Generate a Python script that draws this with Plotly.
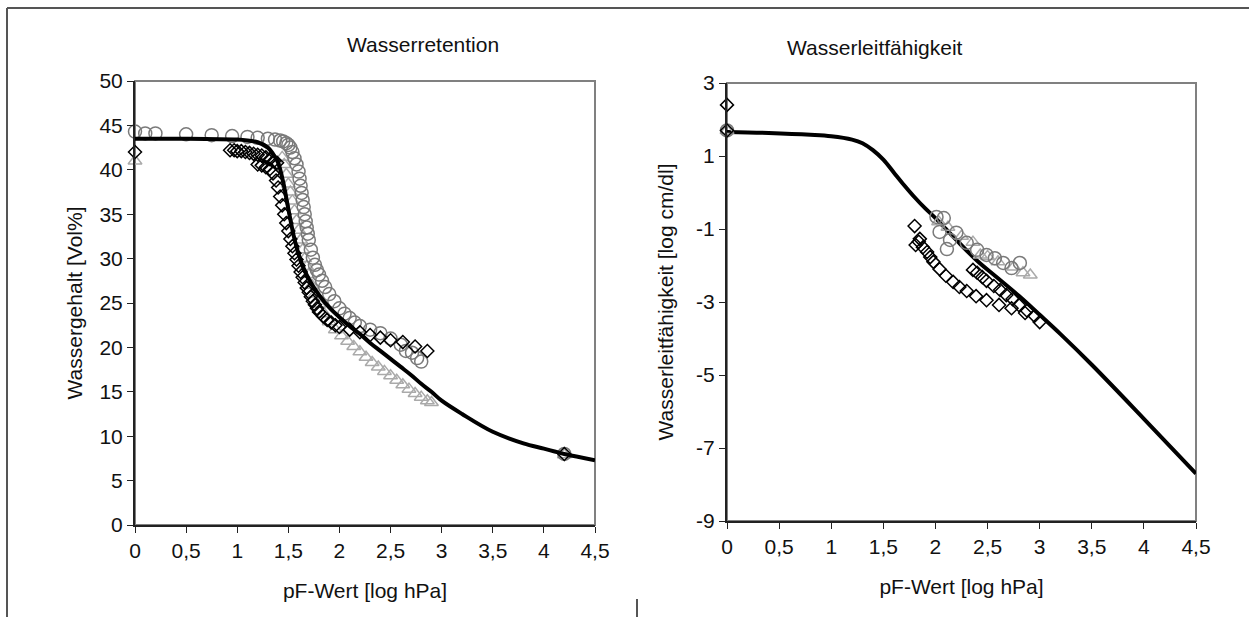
import plotly.graph_objects as go

# --- Wasserretention (left) ---
ret_fit_pf = [0, 0.5, 1.0, 1.1, 1.2, 1.3, 1.35, 1.4, 1.45, 1.5, 1.55, 1.6, 1.65, 1.7, 1.8, 1.9,
              2.0, 2.1, 2.2, 2.3, 2.4, 2.5, 2.6, 2.7, 2.8, 2.9, 3.0, 3.2, 3.5, 3.8, 4.0, 4.2, 4.5]
ret_fit_theta = [43.5, 43.5, 43.4, 43.3, 43.1, 42.5, 41.8, 40.8, 38.6, 35.6, 32.7, 30.5, 28.9, 27.7,
                 25.9, 24.5, 23.4, 22.4, 21.5, 20.5, 19.6, 18.7, 17.8, 16.9, 15.9, 15.0, 14.0,
                 12.5, 10.5, 9.2, 8.6, 8.0, 7.3]

ret_circ_pf = [0, 0.1, 0.2, 0.5, 0.75, 0.95, 1.1, 1.2, 1.3, 1.37, 1.42, 1.45, 1.48, 1.5, 1.52,
               1.54, 1.56, 1.58, 1.6, 1.61, 1.62, 1.63, 1.64, 1.65, 1.66, 1.67, 1.68, 1.69, 1.7,
               1.72, 1.74, 1.76, 1.78, 1.8, 1.83, 1.86, 1.9, 1.95, 2.0, 2.05, 2.1, 2.15, 2.2,
               2.3, 2.4, 2.5, 2.6, 2.65, 2.71, 2.76, 2.8, 4.2]
ret_circ_theta = [44.3, 44.1, 44.1, 44.0, 43.9, 43.8, 43.7, 43.6, 43.5, 43.4, 43.3, 43.2, 43.0, 42.8,
                  42.5, 42.0, 41.3, 40.6, 39.8, 39.0, 38.2, 37.4, 36.6, 35.8, 35.0, 34.2, 33.5,
                  32.8, 32.1, 31.0, 30.1, 29.3, 28.7, 28.2, 27.5, 26.8, 26.0, 25.2, 24.4, 23.8,
                  23.3, 22.8, 22.4, 22.0, 21.6, 21.0, 20.3, 19.6, 19.4, 18.8, 18.4, 8.0]

ret_diam_pf = [0, 0.93, 0.97, 1.0, 1.04, 1.08, 1.12, 1.16, 1.2, 1.24, 1.28, 1.32, 1.36, 1.39,
               1.2, 1.24, 1.28, 1.32, 1.35, 1.38, 1.4, 1.42, 1.44, 1.46, 1.48, 1.5, 1.52, 1.54,
               1.56, 1.58, 1.6, 1.62, 1.64, 1.66, 1.68, 1.7, 1.72, 1.74, 1.76, 1.78, 1.8, 1.84,
               1.88, 1.92, 1.96, 2.0, 2.1, 2.2, 2.3, 2.4, 2.5, 2.62, 2.74, 2.86, 4.2]
ret_diam_theta = [42.0, 42.2, 42.2, 42.1, 42.1, 42.0, 41.9, 41.8, 41.7, 41.6, 41.4, 41.2, 41.0, 40.8,
                  40.6, 40.5, 40.3, 40.1, 39.6, 38.8, 38.0, 37.0, 36.0, 35.0, 34.0, 33.1, 32.2,
                  31.4, 30.6, 29.9, 29.2, 28.5, 27.9, 27.3, 26.7, 26.2, 25.7, 25.2, 24.8, 24.4,
                  24.0, 23.5, 23.1, 22.8, 22.5, 22.3, 22.0, 21.7, 21.4, 21.1, 20.8, 20.6, 20.1,
                  19.6, 8.0]

ret_tri_pf = [0, 1.44, 1.46, 1.48, 1.5, 1.52, 1.54, 1.56, 1.58, 1.6, 1.62, 1.64, 1.66, 1.68,
              1.7, 1.73, 1.76, 1.8, 1.85, 1.9, 1.96, 2.02, 2.08, 2.14, 2.2, 2.26, 2.32,
              2.38, 2.44, 2.5, 2.56, 2.62, 2.68, 2.74, 2.8, 2.86, 2.9, 4.2]
ret_tri_theta = [41.0, 41.4, 40.6, 39.5, 38.4, 37.5, 36.5, 35.4, 34.3, 33.2, 32.1, 31.0, 30.0, 29.1,
                 28.2, 27.0, 26.0, 24.9, 23.8, 22.9, 22.0, 21.3, 20.7, 20.1,
                 19.5, 18.9, 18.3, 17.8, 17.3, 16.8, 16.3, 15.8, 15.3, 14.8, 14.4, 14.0, 13.8, 7.9]

# --- Wasserleitfähigkeit (right) ---
k_fit_pf = [0, 0.4, 0.8, 1.0, 1.2, 1.3, 1.4, 1.5, 1.6, 1.7, 1.8, 1.9, 2.0, 2.1, 2.2, 2.4, 2.6,
            2.8, 3.0, 3.2, 3.5, 4.0, 4.5]
k_fit_log = [1.66, 1.63, 1.58, 1.54, 1.45, 1.35, 1.16, 0.9, 0.55, 0.2, -0.13, -0.43, -0.7, -1.0,
             -1.3, -1.87, -2.35, -2.83, -3.35, -3.88, -4.72, -6.2, -7.7]

k_diam_pf = [0, 0, 1.8, 1.85, 1.81, 1.84, 1.88, 1.92, 1.95, 1.98, 2.04, 2.1, 2.17, 2.23, 2.3,
             2.39, 2.49, 2.61, 2.73, 2.86, 3.0, 2.36, 2.4, 2.45, 2.49, 2.56, 2.62, 2.68, 2.74,
             2.8, 2.88, 2.95]
k_diam_log = [2.4, 1.7, -0.92, -1.27, -1.44, -1.35, -1.5, -1.63, -1.77, -1.9, -2.1, -2.28, -2.45,
              -2.59, -2.7, -2.84, -2.95, -3.08, -3.17, -3.3, -3.55, -2.12, -2.2, -2.32, -2.42,
              -2.56, -2.67, -2.81, -2.92, -3.08, -3.24, -3.38]

k_circ_pf = [0, 2.01, 2.08, 2.04, 2.11, 2.2, 2.14, 2.3, 2.4, 2.49, 2.57, 2.65, 2.73, 2.81]
k_circ_log = [1.7, -0.67, -0.7, -1.08, -1.55, -1.1, -1.3, -1.38, -1.57, -1.71, -1.8, -1.93, -2.07,
              -1.93]

k_tri_pf = [0, 2.03, 2.12, 2.25, 2.36, 2.43, 2.5, 2.6, 2.75, 2.84, 2.91]
k_tri_log = [1.7, -0.8, -0.95, -1.2, -1.36, -1.71, -1.75, -1.9, -2.04, -2.2, -2.26]

x_tickvals = [0, 0.5, 1, 1.5, 2, 2.5, 3, 3.5, 4, 4.5]
x_ticktext = ["0", "0,5", "1", "1,5", "2", "2,5", "3", "3,5", "4", "4,5"]
y1_tickvals = [0, 5, 10, 15, 20, 25, 30, 35, 40, 45, 50]
y2_tickvals = [-9, -7, -5, -3, -1, 1, 3]
y2_ticktext = ["-9", "-7", "-5", "-3", "-1", "1", "3"]

BLACK = "#000000"
GREY = "#7a7a7a"
LIGHT = "#aaaaaa"
FONT = "Liberation Sans, Arial, sans-serif"
W, H = 1249, 617

fig = go.Figure()


def add_markers(x, y, symbol, color, size, xa, ya):
    fig.add_trace(go.Scatter(
        x=x, y=y, mode="markers", xaxis=xa, yaxis=ya, cliponaxis=False,
        marker=dict(symbol=symbol, size=size, color=color, line=dict(color=color, width=1.5)),
    ))


# left panel
add_markers(ret_tri_pf, ret_tri_theta, "triangle-up-open", LIGHT, 12, "x", "y")
add_markers(ret_circ_pf, ret_circ_theta, "circle-open", GREY, 13, "x", "y")
fig.add_trace(go.Scatter(x=ret_fit_pf, y=ret_fit_theta, mode="lines", xaxis="x", yaxis="y",
                         line=dict(color=BLACK, width=4, shape="spline")))
add_markers(ret_diam_pf, ret_diam_theta, "diamond-open", BLACK, 10, "x", "y")

# right panel
fig.add_trace(go.Scatter(x=k_fit_pf, y=k_fit_log, mode="lines", xaxis="x2", yaxis="y2",
                         line=dict(color=BLACK, width=4, shape="spline")))
add_markers(k_tri_pf, k_tri_log, "triangle-up-open", LIGHT, 12, "x2", "y2")
add_markers(k_circ_pf, k_circ_log, "circle-open", GREY, 13, "x2", "y2")
add_markers(k_diam_pf, k_diam_log, "diamond-open", BLACK, 10, "x2", "y2")

axis_common = dict(
    showgrid=False, zeroline=False, showline=True, linecolor="#222222", linewidth=2,
    ticks="outside", ticklen=6, tickwidth=1, tickcolor="#222222", automargin=False,
    tickfont=dict(family=FONT, size=21, color="#111111"),
)

fig.update_layout(
    width=W, height=H,
    margin=dict(l=0, r=0, t=0, b=0),
    paper_bgcolor="white", plot_bgcolor="white",
    showlegend=False,
    font=dict(family=FONT, color="#111111"),
    xaxis=dict(domain=[135 / W, 595 / W], range=[0, 4.5], tickvals=x_tickvals,
               ticktext=x_ticktext, anchor="y",
               title=dict(text="pF-Wert [log hPa]", font=dict(size=21), standoff=22),
               **axis_common),
    yaxis=dict(domain=[1 - 525 / H, 1 - 81 / H], range=[0, 50], tickvals=y1_tickvals,
               anchor="x",
               title=dict(text="Wassergehalt [Vol%]", font=dict(size=21), standoff=11),
               **axis_common),
    xaxis2=dict(domain=[727 / W, 1196 / W], range=[0, 4.5], tickvals=x_tickvals,
                ticktext=x_ticktext, anchor="y2",
                title=dict(text="pF-Wert [log hPa]", font=dict(size=21), standoff=22),
                **axis_common),
    yaxis2=dict(domain=[1 - 521 / H, 1 - 83 / H], range=[-9, 3], tickvals=y2_tickvals,
                ticktext=y2_ticktext, anchor="x2",
                title=dict(text="Wasserleitfähigkeit [log cm/dl]", font=dict(size=21), standoff=17),
                **axis_common),
)

# grey plot-area borders (top and right)
for xa, ya in (("x", "y"), ("x2", "y2")):
    fig.add_shape(type="rect", xref=f"{xa} domain", yref=f"{ya} domain", x0=0, x1=1, y0=0, y1=1,
                  line=dict(color="#808080", width=2), layer="below")

# panel titles
fig.add_annotation(text="Wasserretention", x=345 / W, y=1 - 45 / H, xref="paper",
                   yref="paper", yanchor="middle", showarrow=False,
                   font=dict(size=21, family=FONT))
fig.add_annotation(text="Wasserleitfähigkeit", x=965 / W, y=1 - 48 / H, xref="paper",
                   yref="paper", yanchor="middle", showarrow=False,
                   font=dict(size=21, family=FONT))

# outer frame lines
frame = dict(color="#555555", width=2)
fig.add_shape(type="line", xref="paper", yref="paper", x0=7 / W, x1=1, y0=1 - 8 / H,
              y1=1 - 8 / H, line=frame)
fig.add_shape(type="line", xref="paper", yref="paper", x0=7 / W, x1=7 / W, y0=0,
              y1=1 - 8 / H, line=frame)
fig.add_shape(type="line", xref="paper", yref="paper", x0=637 / W, x1=637 / W, y0=0,
              y1=18 / H, line=frame)

# drop the default page margin so the figure sits at the window origin
fig.write_html("out.html", config={"displayModeBar": False},
               post_script="document.body.style.margin='0';")
